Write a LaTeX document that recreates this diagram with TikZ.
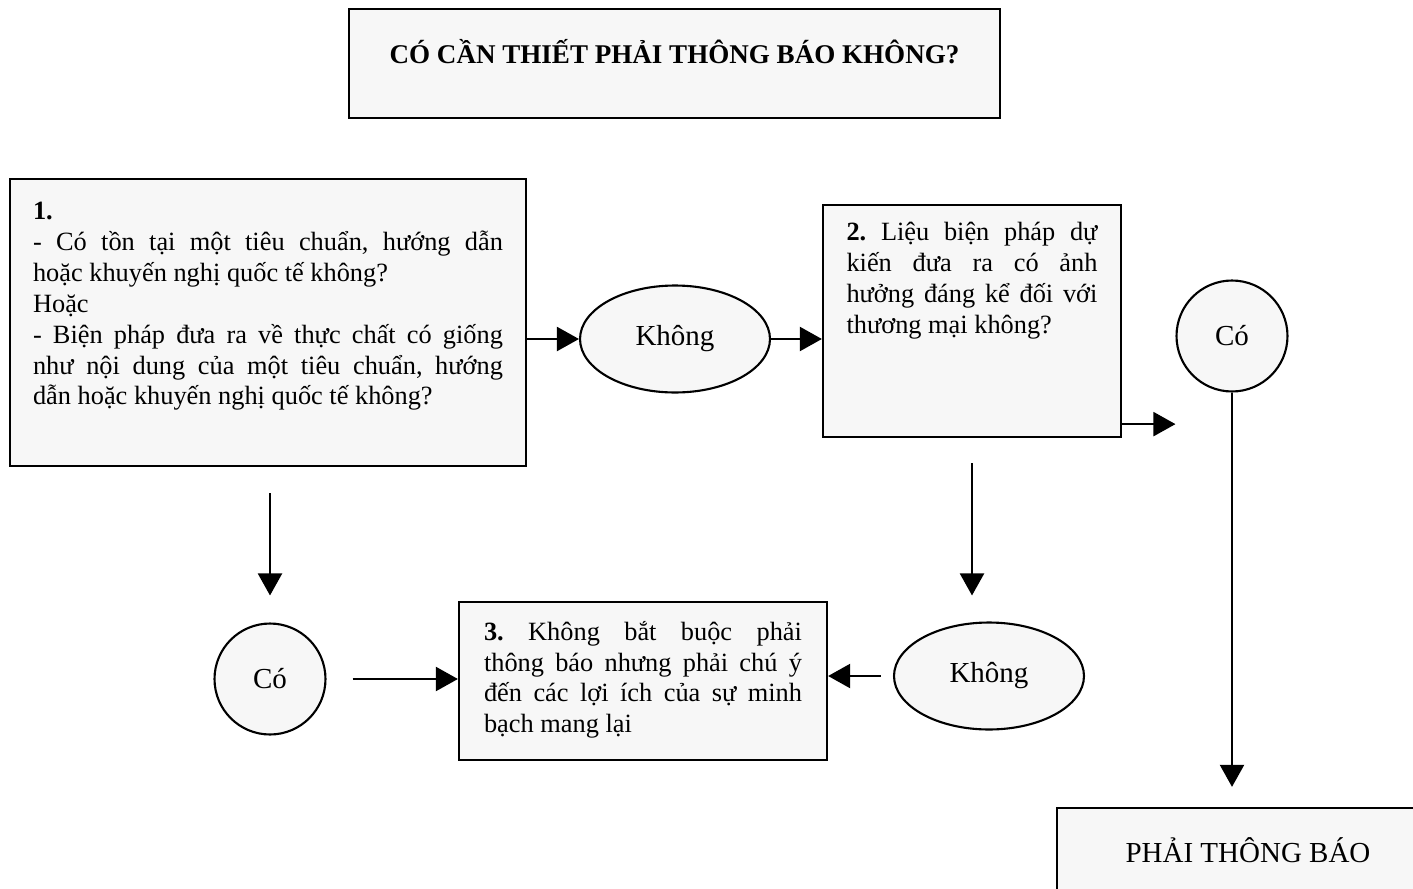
\documentclass[tikz,border=0pt]{standalone}
\usepackage{fontspec}
\setmainfont{Liberation Serif}
\usetikzlibrary{shapes.geometric,arrows.meta}
\frenchspacing

\begin{document}
\begin{tikzpicture}[
      x=0.02cm,y=-0.02cm,font=\fontsize{15}{17.6}\selectfont,
      box/.style={draw,line width=1.3pt,fill=black!3,inner xsep=0.47cm},
      oval/.style={draw,ellipse,line width=1.2pt,fill=black!3,minimum width=3.8cm,
        minimum height=2.14cm,font=\fontsize{16.5}{19}\selectfont},
      yes/.style={draw,circle,line width=1.2pt,fill=black!3,minimum size=2.22cm,
        font=\fontsize{16.5}{19}\selectfont},
      arr/.style={line width=1.2pt,-{Triangle[length=0.44cm,width=0.48cm]}}
    ]
    \useasboundingbox (0,0) rectangle (1413,889);
    \clip (0,0) rectangle (1413,889);
    \node [box,minimum width=13.02cm,minimum height=2.18cm,text height=0.3cm,text depth=0.3cm,
      font=\fontsize{15.4}{18}\selectfont\bfseries] (title) at (674.5,63.5)
      {CÓ CẦN THIẾT PHẢI THÔNG BÁO KHÔNG?};
    \node [box,inner xsep=0.46cm,inner ysep=0.46cm] (q1) at (268,322.5)
      {\parbox[c][4.82cm][t]{9.4cm}{\textbf{1.}\\
        - Có tồn tại một tiêu chuẩn, hướng dẫn\linebreak
        hoặc khuyến nghị quốc tế không?\\
        Hoặc\\
        - Biện pháp đưa ra về thực chất có giống\linebreak
        như nội dung của một tiêu chuẩn, hướng\linebreak
        dẫn hoặc khuyến nghị quốc tế không?}};
    \node [oval] (no1) at (675,339) {Không};
    \node [box,inner ysep=0.34cm] (q2) at (972,321)
      {\parbox[c][3.96cm][t]{5.02cm}{\textbf{2.} Liệu biện pháp dự\linebreak
        kiến đưa ra có ảnh\linebreak
        hưởng đáng kể đối với\linebreak
        thương mại không?}};
    \node [yes] (yes2) at (1232,336) {Có};
    \node [box,minimum width=7.64cm,minimum height=1.68cm,
      font=\fontsize{16.5}{19}\selectfont] (must) at (1248,850) {PHẢI THÔNG BÁO};
    \node [yes] (yes1) at (270,679) {Có};
    \node [box,inner xsep=0.5cm,inner ysep=0.38cm] (q3) at (643,681)
      {\parbox[c][2.4cm][t]{6.36cm}{\textbf{3.} Không bắt buộc phải\linebreak
        thông báo nhưng phải chú ý\linebreak
        đến các lợi ích của sự minh\linebreak
        bạch mang lại}};
    \node [oval] (no2) at (989,676) {Không};
    % mui ten
    \draw [arr] (q1.east |- no1) -- (no1);
    \draw [arr] (no1) -- (no1 -| q2.west);
    \coordinate (q2out) at ([yshift=0.28cm]q2.south east);
    \draw [arr] (q2out) -- (q2out -| yes2.west);
    \draw [arr,shorten >=0.4cm] (yes2) -- (yes2 |- must.north);
    \draw [arr,shorten <=0.52cm,shorten >=0.54cm] (q1.south -| yes1) -- (yes1.north);
    \draw [arr,shorten <=0.5cm,shorten >=0.52cm] (q2.south) -- (q2.south |- no2.north);
    \draw [arr,shorten <=0.52cm] (yes1) -- (yes1 -| q3.west);
    \draw [arr,shorten <=0.24cm] (no2) -- (no2 -| q3.east);
\end{tikzpicture}
\end{document}
